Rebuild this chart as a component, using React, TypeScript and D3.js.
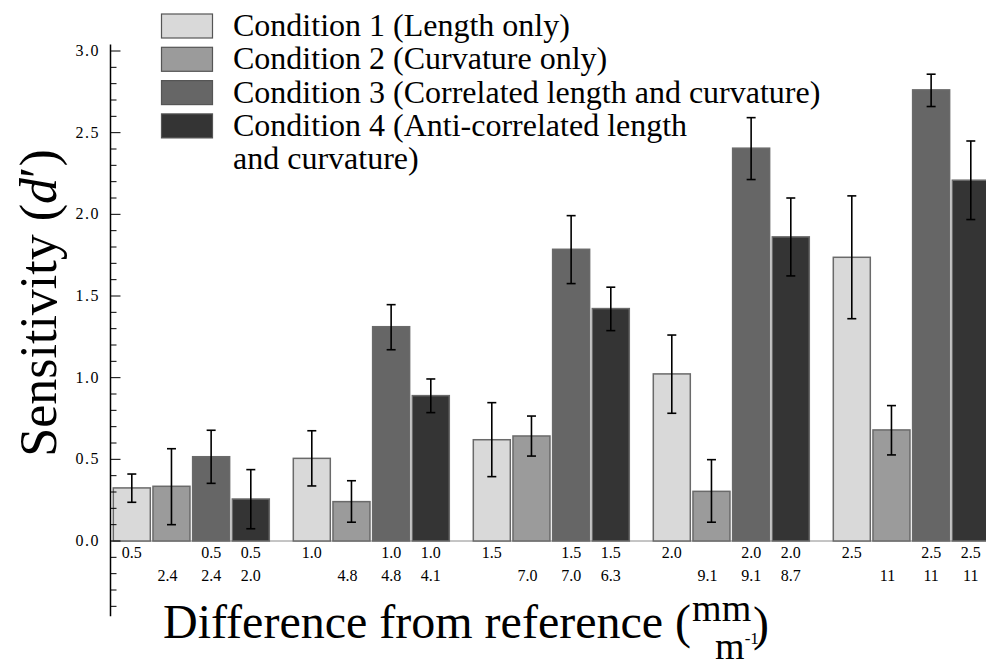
import { useEffect, useRef } from 'react';
import * as d3 from 'd3';

// difference in length (mm) for each group
const groups = ['0.5', '1.0', '1.5', '2.0', '2.5'];
const conditions = ['c1', 'c2', 'c3', 'c4'];

const legendLines = [
  ['Condition 1 (Length only)'],
  ['Condition 2 (Curvature only)'],
  ['Condition 3 (Correlated length and curvature)'],
  ['Condition 4 (Anti-correlated length', 'and curvature)'],
];

// d' means and error bar ends, per condition, per group
const cond1 = [0.325, 0.506, 0.62, 1.023, 1.737];
const cond1Lo = [0.237, 0.337, 0.394, 0.782, 1.361];
const cond1Hi = [0.41, 0.675, 0.847, 1.261, 2.113];
const cond2 = [0.335, 0.241, 0.643, 0.304, 0.68];
const cond2Lo = [0.1, 0.115, 0.52, 0.115, 0.527];
const cond2Hi = [0.565, 0.369, 0.765, 0.498, 0.829];
const cond3 = [0.516, 1.312, 1.786, 2.405, 2.762];
const cond3Lo = [0.353, 1.171, 1.576, 2.213, 2.66];
const cond3Hi = [0.678, 1.447, 1.992, 2.592, 2.858];
const cond4 = [0.257, 0.89, 1.423, 1.862, 2.209];
const cond4Lo = [0.075, 0.786, 1.288, 1.623, 1.968];
const cond4Hi = [0.437, 0.992, 1.554, 2.1, 2.449];

// tick labels under each bar: length difference (top row), curvature difference (bottom row)
const lengthLabels = [
  ['0.5', '', '0.5', '0.5'],
  ['1.0', '', '1.0', '1.0'],
  ['1.5', '', '1.5', '1.5'],
  ['2.0', '', '2.0', '2.0'],
  ['2.5', '', '2.5', '2.5'],
];
const curvatureLabels = [
  ['', '2.4', '2.4', '2.0'],
  ['', '4.8', '4.8', '4.1'],
  ['', '7.0', '7.0', '6.3'],
  ['', '9.1', '9.1', '8.7'],
  ['', '11', '11', '11'],
];

const values = [cond1, cond2, cond3, cond4];
const lows = [cond1Lo, cond2Lo, cond3Lo, cond4Lo];
const highs = [cond1Hi, cond2Hi, cond3Hi, cond4Hi];

const fills = ['#d9d9d9', '#9b9b9b', '#666666', '#343434'];
const serif = '"Liberation Serif", "Times New Roman", "DejaVu Serif", serif';

function Chart() {
  const ref = useRef<SVGSVGElement>(null);

  useEffect(() => {
    const svg = d3.select(ref.current);
    svg.selectAll('*').remove();

    const y = d3.scaleLinear().domain([0, 3]).range([541, 51]);
    const x0 = d3.scaleBand().domain(groups).range([113.3, 989.3]).paddingInner(0.1333);
    const x1 = d3
      .scaleBand<string>()
      .domain(conditions)
      .range([0, x0.bandwidth()])
      .paddingInner(0.067);

    // zero line
    svg
      .append('line')
      .attr('x1', 110)
      .attr('x2', 986)
      .attr('y1', y(0))
      .attr('y2', y(0))
      .attr('stroke', '#8a8a8a')
      .attr('stroke-width', 1);

    const bars = groups.flatMap((g, gi) =>
      conditions.map((c, ci) => ({
        g,
        c,
        ci,
        v: values[ci][gi],
        lo: lows[ci][gi],
        hi: highs[ci][gi],
        len: lengthLabels[gi][ci],
        curv: curvatureLabels[gi][ci],
      })),
    );
    const cx = (d: any) => (x0(d.g) as number) + (x1(d.c) as number) + x1.bandwidth() / 2;

    svg
      .append('g')
      .selectAll('rect')
      .data(bars)
      .join('rect')
      .attr('x', d => (x0(d.g) as number) + (x1(d.c) as number))
      .attr('y', d => y(d.v))
      .attr('width', x1.bandwidth())
      .attr('height', d => y(0) - y(d.v))
      .attr('fill', d => fills[d.ci])
      .attr('stroke', '#6a6a6a')
      .attr('stroke-width', 1.5);

    // error bars
    const err = svg.append('g').attr('stroke', '#000').attr('stroke-width', 1.6);
    err
      .selectAll('line.v')
      .data(bars)
      .join('line')
      .attr('class', 'v')
      .attr('x1', cx)
      .attr('x2', cx)
      .attr('y1', d => y(d.lo))
      .attr('y2', d => y(d.hi));
    ['lo', 'hi'].forEach(k => {
      err
        .selectAll(`line.${k}`)
        .data(bars)
        .join('line')
        .attr('class', k)
        .attr('x1', d => cx(d) - 4.5)
        .attr('x2', d => cx(d) + 4.5)
        .attr('y1', (d: any) => y(d[k]))
        .attr('y2', (d: any) => y(d[k]));
    });

    // two rows of x labels
    const xl = svg
      .append('g')
      .attr('font-family', serif)
      .attr('font-size', 16)
      .attr('text-anchor', 'middle');
    xl.selectAll('text.len')
      .data(bars.filter(d => d.len))
      .join('text')
      .attr('class', 'len')
      .attr('x', cx)
      .attr('y', 558)
      .text(d => d.len);
    xl.selectAll('text.curv')
      .data(bars.filter(d => d.curv))
      .join('text')
      .attr('class', 'curv')
      .attr('x', d => cx(d) - (d.ci === 1 ? 4 : 0))
      .attr('y', 581)
      .text(d => d.curv);

    // y axis, ticks pointing inward
    const ax = 110.5;
    const ya = svg.append('g').attr('stroke', '#000');
    ya.append('line')
      .attr('x1', ax)
      .attr('x2', ax)
      .attr('y1', y(3.04))
      .attr('y2', y(-0.46))
      .attr('stroke-width', 1.5);
    const minor = d3.range(-4, 31);
    ya.selectAll('line.t')
      .data(minor)
      .join('line')
      .attr('class', 't')
      .attr('x1', ax)
      .attr('x2', i => ax + (i >= 0 && i % 5 === 0 ? 10 : 6))
      .attr('y1', i => y(i / 10))
      .attr('y2', i => y(i / 10))
      .attr('stroke-width', 1);
    svg
      .append('g')
      .attr('font-family', serif)
      .attr('font-size', 16)
      .attr('text-anchor', 'end')
      .selectAll('text')
      .data(d3.range(0, 3.01, 0.5))
      .join('text')
      .attr('x', 100)
      .attr('y', d => y(d) + 5)
      .attr('letter-spacing', 1.5)
      .text(d => d3.format('.1f')(d));

    // y title
    const yt = svg
      .append('text')
      .attr('transform', 'translate(56,303) rotate(-90)')
      .attr('text-anchor', 'middle')
      .attr('font-family', serif)
      .attr('font-size', 52);
    yt.append('tspan').text('Sensitivity (');
    yt.append('tspan').attr('font-style', 'italic').text('d');
    yt.append('tspan').text('′)');

    // x title with stacked unit
    const xt = svg
      .append('text')
      .attr('x', 163)
      .attr('y', 638)
      .attr('font-family', serif)
      .attr('font-size', 48)
      .text('Difference from reference (');
    const end = 163 + (xt.node() as SVGTextElement).getComputedTextLength();
    svg
      .append('text')
      .attr('x', end + 1)
      .attr('y', 621)
      .attr('font-family', serif)
      .attr('font-size', 38)
      .text('mm');
    const unit = svg
      .append('text')
      .attr('x', end + 24)
      .attr('y', 659)
      .attr('font-family', serif)
      .attr('font-size', 38);
    unit.append('tspan').text('m');
    unit.append('tspan').attr('font-size', 17).attr('dy', -15).text('-1');
    svg
      .append('text')
      .attr('x', end + 62)
      .attr('y', 640)
      .attr('font-family', serif)
      .attr('font-size', 48)
      .text(')');

    // legend
    const lg = svg.append('g');
    const rowY = d3.scaleLinear().domain([0, 1]).range([14, 47.3]);
    lg.selectAll('rect')
      .data(conditions)
      .join('rect')
      .attr('x', 161.5)
      .attr('y', (d, i) => rowY(i))
      .attr('width', 51)
      .attr('height', 24)
      .attr('fill', (d, i) => fills[i])
      .attr('stroke', '#555')
      .attr('stroke-width', 1.2);
    const lines = legendLines.flatMap((ls, i) => ls.map((t, j) => ({ t, row: i + j })));
    lg.selectAll('text')
      .data(lines)
      .join('text')
      .attr('x', 233)
      .attr('y', d => rowY(d.row) + 22)
      .attr('font-family', serif)
      .attr('font-size', 32)
      .text(d => d.t);
  }, []);

  return <svg ref={ref} width={986} height={662} style={{ display: 'block' }} />;
}

export default function App() {
  return (
    <div style={{ position: 'absolute', left: 0, top: 0, width: 986, height: 662, background: '#fff' }}>
      <Chart />
    </div>
  );
}
